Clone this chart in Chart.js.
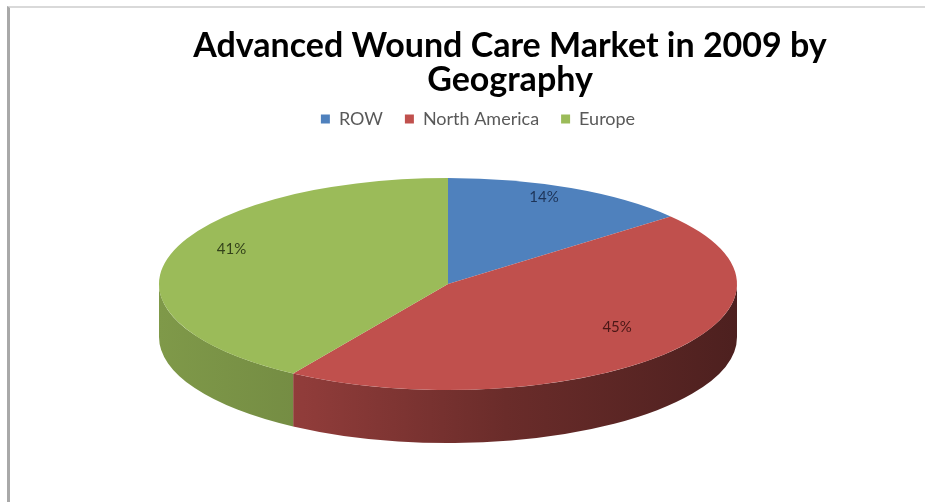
<!DOCTYPE html>
<html>
<head>
<meta charset="utf-8">
<script src="https://cdn.jsdelivr.net/npm/chart.js@4.4.1/dist/chart.umd.min.js"></script>
<style>
  html, body { margin: 0; padding: 0; background: #fff; }
  #wrap { position: relative; width: 925px; height: 502px; }
  #frame {
    position: absolute; left: 7px; top: 6px; right: 0; bottom: 0;
    border-left: 3px solid #a9a9a9; border-top: 2px solid #d9d9d9;
    pointer-events: none;
  }
</style>
</head>
<body>
<div id="wrap">
  <canvas id="chart" width="925" height="502"></canvas>
  <div id="frame"></div>
</div>
<script>
const regions = ['ROW', 'North America', 'Europe'];
const shares = [14, 45, 41];
const sliceColors = ['#4F81BD', '#C0504D', '#9BBB59'];
const labelColors = ['#1d3357', '#4a1716', '#33421a'];

// 3D look: vertical squash of the top face and thickness of the side.
const TILT = 0.367;
const DEPTH = 53;
const TITLE_SHIFT = 62;
const LEGEND_SHIFT = 30;

function shade(hex, k) {
    const n = parseInt(hex.slice(1), 16);
    const r = Math.round(((n >> 16) & 255) * k);
    const g = Math.round(((n >> 8) & 255) * k);
    const b = Math.round((n & 255) * k);
    return 'rgb(' + r + ',' + g + ',' + b + ')';
}

const pie3d = {
    id: 'pie3d',
    afterLayout(chart) {
        // Title and legend sit right of the pie centre in the original.
        chart.titleBlock.left += TITLE_SHIFT;
        chart.titleBlock.right += TITLE_SHIFT;
        chart.legend.left += LEGEND_SHIFT;
        chart.legend.right += LEGEND_SHIFT;
    },
    beforeDatasetsDraw(chart) {
        const ctx = chart.ctx;
        const arcs = chart.getDatasetMeta(0).data;
        const x = arcs[0].x, y = arcs[0].y, r = arcs[0].outerRadius;
        const ry = r * TILT;
        ctx.save();
        // Side wall, only the front half is visible.
        arcs.forEach((arc, i) => {
            const s = Math.max(arc.startAngle, 0);
            const e = Math.min(arc.endAngle, Math.PI);
            if (e <= s) return;
            const c = sliceColors[i];
            const grad = ctx.createLinearGradient(x - r, 0, x + r, 0);
            grad.addColorStop(0, shade(c, 0.82));
            grad.addColorStop(0.25, shade(c, 0.75));
            grad.addColorStop(0.6, shade(c, 0.55));
            grad.addColorStop(1, shade(c, 0.40));
            ctx.beginPath();
            ctx.ellipse(x, y, r, ry, 0, s, e);
            ctx.ellipse(x, y + DEPTH, r, ry, 0, e, s, true);
            ctx.closePath();
            ctx.fillStyle = grad;
            ctx.fill();
        });
        // Squash the top face into an ellipse.
        ctx.translate(x, y);
        ctx.scale(1, TILT);
        ctx.translate(-x, -y);
    },
    afterDatasetsDraw(chart) {
        const ctx = chart.ctx;
        ctx.restore();
        const meta = chart.getDatasetMeta(0);
        ctx.save();
        ctx.font = '15px Lato';
        ctx.textAlign = 'center';
        ctx.textBaseline = 'middle';
        meta.data.forEach((arc, i) => {
            const mid = (arc.startAngle + arc.endAngle) / 2;
            const lx = arc.x + arc.outerRadius * 0.78 * Math.cos(mid);
            const ly = arc.y - 12 + arc.outerRadius * TILT * 0.78 * Math.sin(mid);
            ctx.fillStyle = labelColors[i];
            ctx.fillText(shares[i] + '%', lx, ly);
        });
        ctx.restore();
    }
};

new Chart(document.getElementById('chart'), {
    type: 'pie',
    data: {
        labels: regions,
        datasets: [{
            data: shares,
            backgroundColor: sliceColors,
            borderWidth: 0,
            clip: false
        }]
    },
    options: {
        responsive: false,
        animation: false,
        radius: 289,
        layout: {
            padding: { left: 0, right: 29, top: 0, bottom: 72 }
        },
        plugins: {
            title: {
                display: true,
                text: ['Advanced Wound Care Market in 2009 by', 'Geography'],
                color: '#000',
                font: { family: 'Lato', size: 34, weight: 'bold', lineHeight: 1.0 },
                padding: { top: 29, bottom: -9 }
            },
            legend: {
                position: 'top',
                labels: {
                    color: '#595959',
                    font: { family: 'Lato', size: 18 },
                    boxWidth: 9,
                    boxHeight: 9,
                    padding: 22
                }
            },
            tooltip: { enabled: false }
        }
    },
    plugins: [pie3d]
});
</script>
</body>
</html>
